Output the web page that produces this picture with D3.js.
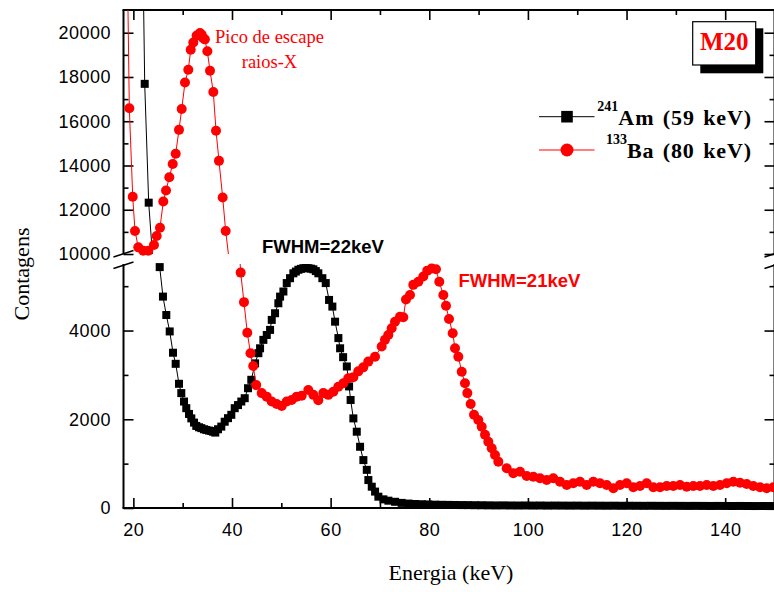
<!DOCTYPE html>
<html>
<head>
<meta charset="utf-8">
<script src="https://cdn.jsdelivr.net/npm/d3@7"></script>
<style>
  body { margin: 0; background: #fff; }
  svg { display: block; }
  .tick text { font-family: "Liberation Sans", Arial, sans-serif; font-size: 18px; fill: #000; letter-spacing: 0.5px; }
  .tick line { stroke: #000; stroke-width: 1.6; }
</style>
</head>
<body>
<svg id="chart" width="774" height="592"></svg>
<script>
// 241Am spectrum (keV, counts)
const amEnergy = [21.4, 22.3, 23.11, 25.34, 26.0, 26.68, 27.37, 28.04, 28.58, 29.25, 29.72, 30.27, 30.73, 31.28, 31.75,
  32.3, 32.76, 33.31, 33.78, 34.32, 34.79, 35.34, 35.8, 36.15, 36.61, 37.16, 37.83, 38.52, 39.19, 39.86, 40.55,
  41.22, 41.89, 42.58, 43.25, 43.91, 44.68, 45.35, 45.69, 46.36, 47.05, 47.72, 48.06, 48.73, 49.4, 49.75, 50.42,
  51.1, 51.77, 52.44, 52.95, 53.46, 53.97, 54.47, 54.98, 55.49, 56.0, 56.5, 57.0, 57.51, 58.32, 59.01, 59.68,
  60.35, 60.9, 61.57, 61.92, 62.53, 63.28, 63.74, 64.05, 64.61, 65.3, 65.97, 66.64, 67.33, 67.65, 68.34, 69.01,
  69.68, 70.69, 71.71, 73.07, 74.4, 75.8, 77.1, 78.5, 79.8, 81.2, 82.5, 83.9, 85.2, 86.6, 87.9, 89.3, 90.6,
  92.0, 93.5, 95.0, 96.5, 98.0, 99.5, 101.0, 102.5, 104.0, 105.5, 107.0, 108.5, 110.0, 111.5, 113.0, 114.5,
  116.0, 117.5, 119.0, 120.5, 122.0, 123.5, 125.0, 126.5, 128.0, 129.5, 131.0, 132.5, 134.0, 135.5, 137.0,
  138.5, 140.0, 141.5, 143.0, 144.5, 146.0, 147.5, 149.0, 150.0];
const amCounts = [32000, 17690, 12320, 5430, 4765, 4350, 3980, 3500, 3250, 2800, 2590, 2400, 2250, 2120, 2020,
  1925, 1850, 1820, 1800, 1775, 1760, 1745, 1735, 1720, 1700, 1775, 1835, 1945, 2025, 2100, 2250,
  2320, 2400, 2475, 2700, 2890, 3260, 3490, 3600, 3790, 3900, 4015, 4240, 4390, 4615, 4765, 4880,
  5070, 5180, 5290, 5330, 5370, 5390, 5405, 5410, 5405, 5395, 5380, 5340, 5290, 5180, 5070, 4690,
  4540, 4200, 3830, 3600, 3400, 3190, 2740, 2435, 2020, 1720, 1380, 1080, 860, 630, 480, 370,
  255, 195, 165, 140, 115, 100, 90, 85, 80, 75, 72, 70, 68, 66, 65, 63, 62,
  60, 58, 59, 57, 56, 57, 55, 56, 54, 55, 54, 53, 54, 52, 53, 52,
  51, 52, 50, 51, 50, 49, 50, 49, 48, 49, 48, 47, 48, 47, 46,
  47, 46, 45, 46, 45, 44, 45, 44, 44];

// 133Ba spectrum (keV, counts)
const baEnergy = [18.61, 19.18, 19.87, 20.33, 21.0, 22.01, 23.03, 24.18, 24.73, 25.4, 26.07, 26.62, 27.29, 27.98,
  28.58, 29.25, 29.8, 30.47, 31.14, 31.63, 32.15, 32.84, 33.51, 33.86, 34.12, 34.5, 35.0, 35.54, 36.21, 36.76,
  37.36, 38.11, 38.72, 41.76, 42.43, 43.1, 43.75, 44.3, 44.91, 46.02, 47.04, 48.05, 49.06, 50.08, 51.09,
  52.1, 53.12, 54.13, 55.47, 56.49, 57.5, 58.52, 59.53, 60.54, 61.56, 62.57, 63.58, 64.6, 65.61, 66.62,
  67.64, 69.0, 70.35, 71.02, 71.69, 72.38, 73.05, 74.06, 74.73, 75.28, 76.09, 76.76, 77.78, 78.79, 79.6,
  80.49, 81.36, 82.03, 82.85, 83.39, 84.0, 84.75, 85.22, 85.89, 86.58, 87.24, 87.71, 88.4, 89.07, 89.94,
  90.63, 91.3, 91.97, 92.66, 93.33, 94.0, 95.7, 97.04, 98.4, 99.76, 101.1, 102.45, 103.81, 105.15, 106.51,
  107.87, 109.2, 110.56, 111.92, 113.26, 114.62, 115.98, 117.32, 118.67, 120.03, 121.37, 122.73, 124.09,
  125.43, 126.79, 128.14, 129.48, 130.84, 132.2, 133.54, 134.89, 136.25, 137.6, 138.95, 140.31, 141.65,
  143.0, 144.36, 145.7, 147.06, 148.42, 149.76];
const baCounts = [26000, 16590, 12590, 11040, 10300, 10150, 10150, 10410, 10810, 11190, 12370, 12870, 13470, 14070,
  14530, 15610, 16550, 17750, 18330, 19230, 19560, 19870, 19990, 19910, 19760, 19700, 19160, 18280, 17320, 15570,
  14210, 12550, 11040, 5306, 4640, 3950, 3490, 3200, 2770, 2590, 2510, 2400, 2345, 2300, 2400,
  2435, 2510, 2530, 2660, 2550, 2430, 2590, 2550, 2620, 2735, 2810, 2925, 2950, 3080, 3170,
  3300, 3410, 3640, 3790, 3900, 4050, 4200, 4310, 4300, 4700, 4800, 5030, 5100, 5220, 5350,
  5400, 5380, 5100, 4800, 4560, 4260, 3940, 3600, 3410, 3070, 2810, 2590, 2345, 2100, 1985,
  1830, 1650, 1495, 1345, 1195, 1045, 895, 782, 819, 722, 706, 670, 631, 670, 593,
  519, 557, 593, 519, 593, 557, 519, 444, 519, 557, 467, 496, 557,
  467, 467, 496, 496, 519, 480, 496, 496, 519, 496, 519, 557, 593,
  570, 541, 496, 467, 444, 467];

const xTicks = [20, 40, 60, 80, 100, 120, 140];
const xMinor = [30, 50, 70, 90, 110, 130, 150];
const yLoTicks = [0, 2000, 4000];
const yLoMinor = [1000, 3000, 5000];
const yHiTicks = [10000, 12000, 14000, 16000, 18000, 20000];
const yHiMinor = [11000, 13000, 15000, 17000, 19000];

const am = amEnergy.map((e, i) => [e, amCounts[i]]);
const ba = baEnergy.map((e, i) => [e, baCounts[i]]);

const svg = d3.select("#chart");
const pLeft = 123.5, pRight = 774.5, pTop = 10, pBottom = 508, hiBot = 254, loTop = 264;

const x = d3.scaleLinear().domain([18, 150]).range([pLeft, pRight]);
const yLo = d3.scaleLinear().domain([0, 5500]).range([pBottom, loTop]);
const yHi = d3.scaleLinear().domain([10000, 21000]).range([hiBot, 10.6]);

const defs = svg.append("defs");
defs.append("clipPath").attr("id", "clipHi").append("rect")
  .attr("x", pLeft).attr("y", pTop).attr("width", pRight - pLeft).attr("height", hiBot - pTop);
defs.append("clipPath").attr("id", "clipLo").append("rect")
  .attr("x", pLeft).attr("y", loTop).attr("width", pRight - pLeft).attr("height", pBottom - loTop);

// axes (ticks pointing inward)
function noDomain(g) { g.select(".domain").remove(); }

svg.append("g").attr("transform", `translate(0,${pBottom})`)
  .call(d3.axisBottom(x).tickValues(xTicks).tickSizeInner(-10).tickSizeOuter(0).tickPadding(15))
  .call(noDomain);
svg.append("g").attr("transform", `translate(0,${pBottom})`)
  .call(d3.axisBottom(x).tickValues(xMinor).tickSizeInner(-5).tickSizeOuter(0).tickFormat(""))
  .call(noDomain);
svg.append("g").attr("transform", `translate(0,${pTop})`)
  .call(d3.axisTop(x).tickValues(xTicks).tickSizeInner(-10).tickSizeOuter(0).tickFormat(""))
  .call(noDomain);
svg.append("g").attr("transform", `translate(0,${pTop})`)
  .call(d3.axisTop(x).tickValues(xMinor).tickSizeInner(-5).tickSizeOuter(0).tickFormat(""))
  .call(noDomain);

[[yLo, yLoTicks, yLoMinor], [yHi, yHiTicks, yHiMinor]].forEach(([sc, major, minor]) => {
  svg.append("g").attr("transform", `translate(${pLeft},0)`)
    .call(d3.axisLeft(sc).tickValues(major).tickSizeInner(-10).tickSizeOuter(0).tickPadding(12.5).tickFormat(d3.format("d")))
    .call(noDomain);
  svg.append("g").attr("transform", `translate(${pLeft},0)`)
    .call(d3.axisLeft(sc).tickValues(minor).tickSizeInner(-5).tickSizeOuter(0).tickFormat(""))
    .call(noDomain);
  svg.append("g").attr("transform", `translate(${pRight},0)`)
    .call(d3.axisRight(sc).tickValues(major).tickSizeInner(-10).tickSizeOuter(0).tickFormat(""))
    .call(noDomain);
  svg.append("g").attr("transform", `translate(${pRight},0)`)
    .call(d3.axisRight(sc).tickValues(minor).tickSizeInner(-5).tickSizeOuter(0).tickFormat(""))
    .call(noDomain);
});

// frame with broken y axis
const frame = svg.append("g").attr("stroke", "#000").attr("stroke-width", 2).attr("fill", "none");
frame.append("line").attr("x1", pLeft - 1).attr("x2", pRight).attr("y1", pBottom).attr("y2", pBottom);
frame.append("line").attr("x1", pLeft - 1).attr("x2", pRight).attr("y1", pTop).attr("y2", pTop);
[pLeft, pRight].forEach(xx => {
  frame.append("line").attr("x1", xx).attr("x2", xx).attr("y1", pTop).attr("y2", hiBot);
  frame.append("line").attr("x1", xx).attr("x2", xx).attr("y1", loTop).attr("y2", pBottom);
  frame.append("line").attr("x1", xx - 10).attr("x2", xx + 10).attr("y1", hiBot + 3).attr("y2", hiBot - 3.5).attr("stroke-width", 1.5);
  frame.append("line").attr("x1", xx - 10).attr("x2", xx + 10).attr("y1", loTop + 4.5).attr("y2", loTop - 2).attr("stroke-width", 1.5);
});

// series
function drawSeries(data, color, shape) {
  [[yHi, "clipHi", d => d[1] >= 9900 && d[1] <= 21000], [yLo, "clipLo", d => d[1] <= 5600]].forEach(([sc, clip, keep]) => {
    const line = d3.line().x(d => x(d[0])).y(d => sc(d[1]));
    svg.append("path").datum(data)
      .attr("clip-path", `url(#${clip})`)
      .attr("d", line).attr("fill", "none").attr("stroke", color).attr("stroke-width", 1);
    const pts = data.filter(keep);
    if (shape === "square") {
      svg.append("g").selectAll("rect").data(pts).join("rect")
        .attr("x", d => x(d[0]) - 4).attr("y", d => sc(d[1]) - 4)
        .attr("width", 8).attr("height", 8).attr("fill", color);
    } else {
      svg.append("g").selectAll("circle").data(pts).join("circle")
        .attr("cx", d => x(d[0])).attr("cy", d => sc(d[1])).attr("r", 5).attr("fill", color);
    }
  });
}
drawSeries(am, "#000", "square");
drawSeries(ba, "#ff0000", "circle");

const serif = "'Liberation Serif', 'Times New Roman', serif";
const sans = "'Liberation Sans', Arial, sans-serif";

// axis titles
svg.append("text").attr("x", 451).attr("y", 580).attr("text-anchor", "middle")
  .attr("font-family", serif).attr("font-size", 22).text("Energia (keV)");
svg.append("text").attr("transform", "translate(29,274) rotate(-90)").attr("text-anchor", "middle")
  .attr("font-family", serif).attr("font-size", 22).text("Contagens");

// annotations
svg.append("text").attr("x", 269.5).attr("y", 43.3).attr("text-anchor", "middle")
  .attr("font-family", serif).attr("font-size", 18.5).attr("fill", "#ff0000").text("Pico de escape");
svg.append("text").attr("x", 269.5).attr("y", 68).attr("text-anchor", "middle")
  .attr("font-family", serif).attr("font-size", 18.5).attr("fill", "#ff0000").text("raios-X");
svg.append("text").attr("x", 262).attr("y", 253).attr("font-family", sans).attr("font-weight", "bold")
  .attr("font-size", 18.5).attr("fill", "#000").text("FWHM=22keV");
svg.append("text").attr("x", 458.5).attr("y", 286.5).attr("font-family", sans).attr("font-weight", "bold")
  .attr("font-size", 18.5).attr("fill", "#ff0000").text("FWHM=21keV");

// M20 box
svg.append("rect").attr("x", 700.3).attr("y", 28.3).attr("width", 63).attr("height", 45).attr("fill", "#000");
svg.append("rect").attr("x", 692.7).attr("y", 21.7).attr("width", 63).attr("height", 43.3)
  .attr("fill", "#fff").attr("stroke", "#000").attr("stroke-width", 1.2);
svg.append("text").attr("x", 724.2).attr("y", 49.5).attr("text-anchor", "middle")
  .attr("font-family", serif).attr("font-weight", "bold").attr("font-size", 25).attr("fill", "#ff0000").text("M20");

// legend
const legend = [
  { color: "#000", shape: "square", sup: "241", label: "Am (59 keV)", y: 116.7 },
  { color: "#ff0000", shape: "circle", sup: "133", label: "Ba (80 keV)", y: 150 }
];
legend.forEach(l => {
  svg.append("line").attr("x1", 539).attr("x2", 594.5).attr("y1", l.y).attr("y2", l.y)
    .attr("stroke", l.color).attr("stroke-width", 1);
  if (l.shape === "square") {
    svg.append("rect").attr("x", 567 - 5.8).attr("y", l.y - 5.8).attr("width", 11.6).attr("height", 11.6).attr("fill", l.color);
  } else {
    svg.append("circle").attr("cx", 567).attr("cy", l.y).attr("r", 6.5).attr("fill", l.color);
  }
  const t = svg.append("text").attr("x", 752).attr("y", l.y + 8.3).attr("text-anchor", "end")
    .attr("font-family", serif).attr("font-weight", "bold").attr("fill", "#000");
  t.append("tspan").attr("font-size", 14).attr("dy", -14).text(l.sup);
  t.append("tspan").attr("font-size", 22).attr("dy", 14).attr("letter-spacing", 0.9).attr("word-spacing", 2).text(l.label);
});
</script>
</body>
</html>
